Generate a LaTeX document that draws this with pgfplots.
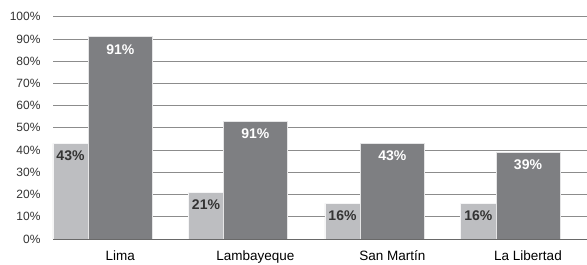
\documentclass[border=0pt]{standalone}
\usepackage{pgfplots}
\pgfplotsset{compat=1.18}
\usepackage{fontspec}
\setmainfont{Liberation Sans}
\definecolor{lightbar}{HTML}{BDBEC1}
\definecolor{darkbar}{HTML}{7E7F82}
\definecolor{gridc}{HTML}{8C8C8C}
\definecolor{txt}{HTML}{333333}
\begin{document}
\begin{tikzpicture}[x=1bp,y=1bp]
\begin{axis}[
  at={(0,0)}, anchor=south west,
  scale only axis,
  width=534bp, height=222.3bp,
  xmin=53, xmax=587,
  ymin=0, ymax=100,
  axis line style={draw=none},
  ytick={0,10,...,100},
  yticklabel={\pgfmathprintnumber{\tick}\%},
  /pgf/number format/assume math mode=true,
  yticklabel style={font=\fontsize{12bp}{14bp}\selectfont, text=txt, xshift=-9bp},
  ymajorgrids,
  grid style={gridc, line width=0.7bp},
  xtick={120.3,255.3,392.3,528},
  xticklabels={Lima,Lambayeque,San Martín,La Libertad},
  major tick length=0pt,
  xticklabel style={font=\fontsize{13.5bp}{15bp}\selectfont, text=black, yshift=-8.5bp},
  clip=false,
  ybar, bar shift=0pt,
  nodes near coords,
  point meta=explicit symbolic,
  every node near coord/.append style={font=\bfseries\fontsize{14bp}{16bp}\selectfont, anchor=north, yshift=-4bp},
]
\addplot[fill=lightbar, draw=white!85!lightbar, line width=0.5bp, bar width=35.5,
  every node near coord/.append style={text=txt}]
  table[meta=l] {
x y l
70.5 43 43\%
206 21 21\%
342.5 16 16\%
478.3 16 16\%
};
\addplot[fill=darkbar, draw=white!80!darkbar, line width=0.5bp, bar width=64,
  every node near coord/.append style={text=white}]
  table[meta=l] {
x y l
120.3 91 91\%
255.3 53 91\%
392.3 43 43\%
528 39 39\%
};
\draw[gridc!75!black, line width=0.9bp] (rel axis cs:0,0) -- (rel axis cs:1,0);
\end{axis}
\pgfresetboundingbox
\path (-53bp,-26bp) rectangle (534bp,239bp);
\end{tikzpicture}
\end{document}
